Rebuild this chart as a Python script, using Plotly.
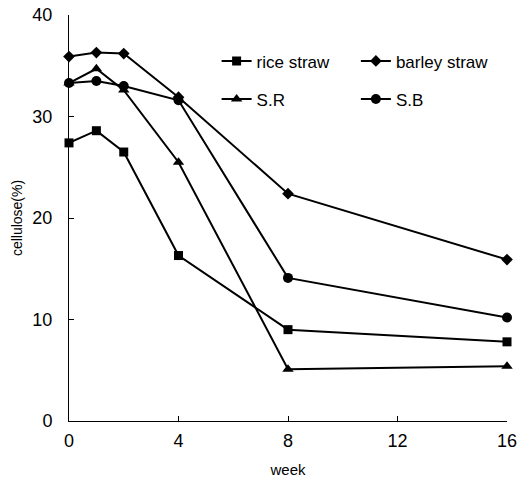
import plotly.graph_objects as go

weeks = [0, 1, 2, 4, 8, 16]
rice_straw = [27.4, 28.6, 26.5, 16.3, 9.0, 7.8]
barley_straw = [35.9, 36.3, 36.2, 31.9, 22.4, 15.9]
s_r = [33.3, 34.7, 32.6, 25.5, 5.1, 5.4]
s_b = [33.3, 33.5, 33.0, 31.6, 14.1, 10.2]

x_ticks = [0, 4, 8, 12, 16]
y_ticks = [0, 10, 20, 30, 40]

FONT = "Liberation Sans, Arial, sans-serif"

fig = go.Figure()

series = [
    ("rice straw", rice_straw, "square", 9, "legend", "g1"),
    ("barley straw", barley_straw, "diamond", 9, "legend2", "g2"),
    ("S.R", s_r, "triangle-up", 10, "legend", "g3"),
    ("S.B", s_b, "circle", 10, "legend2", "g4"),
]
for name, vals, sym, size, leg, grp in series:
    fig.add_trace(go.Scatter(
        x=weeks, y=vals, name=name, mode="lines+markers",
        line=dict(color="black", width=2),
        marker=dict(symbol=sym, size=size, color="black"),
        cliponaxis=False, legend=leg, legendgroup=grp,
    ))

legend_common = dict(
    font=dict(family=FONT, size=17, color="black"),
    bgcolor="rgba(0,0,0,0)", borderwidth=0,
    orientation="v", yanchor="top", xanchor="left",
    tracegroupgap=13, itemwidth=30,
)

fig.update_layout(
    width=519, height=483,
    margin=dict(l=69, r=12, t=15, b=62),
    paper_bgcolor="white", plot_bgcolor="white",
    font=dict(family=FONT, size=16, color="black"),
    showlegend=True,
    legend=dict(x=0.337, y=0.93, **legend_common),
    legend2=dict(x=0.655, y=0.93, **legend_common),
    xaxis=dict(
        range=[0, 16], tickvals=x_ticks, ticktext=[str(v) for v in x_ticks],
        showline=True, linecolor="black", linewidth=1,
        ticks="inside", ticklen=5, tickcolor="black",
        showgrid=False, zeroline=False, automargin=False,
        ticklabeloverflow="allow", ticklabelstandoff=3,
        tickfont=dict(family=FONT, size=18),
        title=dict(text="week", font=dict(family=FONT, size=15), standoff=14),
    ),
    yaxis=dict(
        range=[0, 40], tickvals=y_ticks, ticktext=[str(v) for v in y_ticks],
        showline=True, linecolor="black", linewidth=1,
        ticks="inside", ticklen=5, tickcolor="black",
        showgrid=False, zeroline=False, automargin=False,
        ticklabeloverflow="allow",
        tickfont=dict(family=FONT, size=18),
        ticklabelstandoff=12,
        title=dict(text="cellulose(%)", font=dict(family=FONT, size=14), standoff=6),
    ),
)

fig.write_html(
    "out.html",
    config={"displayModeBar": False},
    post_script="document.body.style.margin='0';document.body.style.overflow='hidden';",
)
